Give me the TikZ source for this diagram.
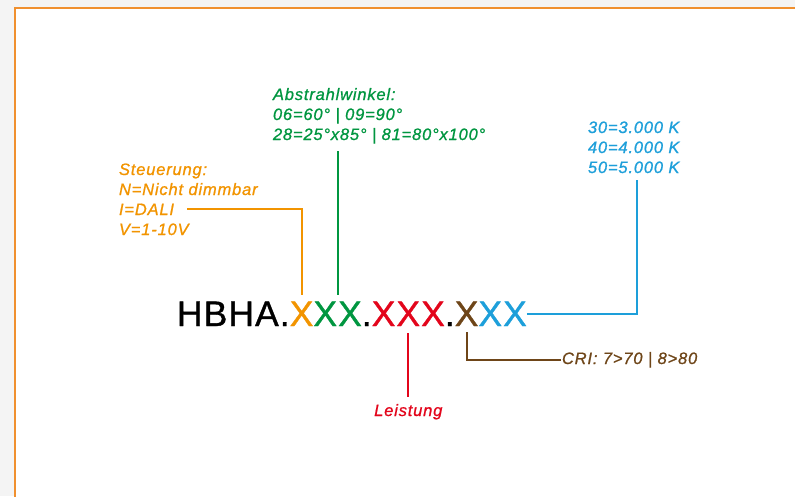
\documentclass[tikz,border=0pt]{standalone}
\usepackage{fontspec}
\setmainfont{Liberation Sans}
\newfontfamily\codefont[LetterSpace=3,FakeBold=1]{Liberation Sans}
\newfontfamily\lblfont[LetterSpace=5,FakeBold=0.9]{Liberation Sans}
\definecolor{cOr}{HTML}{F29400}
\definecolor{cGr}{HTML}{009640}
\definecolor{cRd}{HTML}{E3051B}
\definecolor{cBr}{HTML}{6E4518}
\definecolor{cBl}{HTML}{1D9FDA}
\definecolor{cBorder}{HTML}{F0902F}
\definecolor{bgGray}{HTML}{F4F4F4}
\begin{document}
\begin{tikzpicture}[x=1pt,y=-1pt,
  seg/.style={inner sep=0pt, outer sep=0pt, anchor=base west, font=\codefont\fontsize{35.5}{35.5}\selectfont},
  lbl/.style={inner sep=0pt, outer sep=0pt, anchor=base west, font=\lblfont\itshape\fontsize{16.5}{20}\selectfont},
  conn/.style={line width=2pt}]
\useasboundingbox (0,0) rectangle (795,496);
\fill[bgGray] (0,0) rectangle (795,496);
\filldraw[fill=white, draw=cBorder, line width=2pt] (14.5,7.5) rectangle (810,510);

% code segments
\node[seg] (hb) at (177,326) {HBHA.};
\node[seg, text=cOr] (ox) at (hb.base east) {X};
\node[seg, text=cGr] (gx) at (ox.base east) {XX};
\node[seg] (d1) at (gx.base east) {.};
\node[seg, text=cRd] (rx) at (d1.base east) {XXX};
\node[seg] (d2) at (rx.base east) {.};
\node[seg, text=cBr] (brx) at (d2.base east) {X};
\node[seg, text=cBl] (blx) at (brx.base east) {XX};

% Steuerung
\node[lbl, text=cOr] (s1) at (119,175) {Steuerung:};
\node[lbl, text=cOr] (s2) at (119,195) {N=Nicht dimmbar};
\node[lbl, text=cOr] (s3) at (119,215) {I=DALI};
\node[lbl, text=cOr] (s4) at (119,235) {V=1-10V};

% Abstrahlwinkel
\node[lbl, text=cGr] (a1) at (273,100) {Abstrahlwinkel:};
\node[lbl, text=cGr] (a2) at (273,120) {06=60° | 09=90°};
\node[lbl, text=cGr] (a3) at (273,140) {28=25°x85° | 81=80°x100°};

% Farbtemperatur
\node[lbl, text=cBl] (k1) at (588,133) {30=3.000 K};
\node[lbl, text=cBl] (k2) at (588,153) {40=4.000 K};
\node[lbl, text=cBl] (k3) at (588,173) {50=5.000 K};

% Leistung, CRI
\coordinate (lebase) at (0,416);
\node[lbl, text=cRd, anchor=base] (le) at (rx.south |- lebase) {Leistung};
\node[lbl, text=cBr] (cri) at (562,364) {CRI: 7>70 | 8>80};

% connectors
\draw[conn, cOr] ([xshift=13pt]s3.east) -| ([yshift=6.5pt]ox.north);
\draw[conn, cGr] ([yshift=-7.5pt]gx.north |- a3.south) -- ([yshift=6.5pt]gx.north);
\draw[conn, cRd] ([yshift=-7pt]rx.south) -- ([yshift=7pt]le.north);
\draw[conn, cBr] ([yshift=-6pt]brx.south) |- ([xshift=-1pt]cri.west);
\draw[conn, cBl] (blx.east) -| ([xshift=3pt,yshift=-7pt]k3.south);
\end{tikzpicture}
\end{document}
